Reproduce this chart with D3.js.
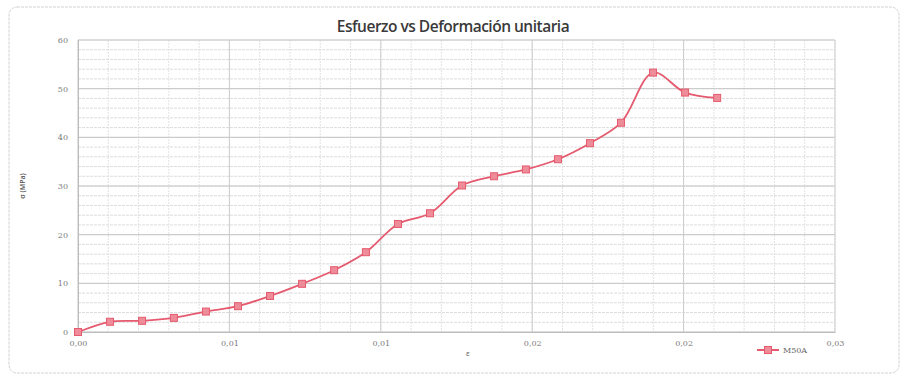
<!DOCTYPE html>
<html>
<head>
<meta charset="utf-8">
<script src="https://cdn.jsdelivr.net/npm/d3@7"></script>
<style>
  html, body { margin: 0; padding: 0; background: #fff; }
  svg { display: block; font-family: "Open Sans", "Liberation Sans", sans-serif; }
</style>
</head>
<body>
<svg id="chart" width="906" height="378"></svg>
<script>
// ---- data ----
const title = "Esfuerzo vs Deformación unitaria";
const xLabel = "ε";
const yLabel = "σ (MPa)";
const seriesName = "M50A";
const strain = [0, 0.00127, 0.00254, 0.00380, 0.00507, 0.00634, 0.00761, 0.00888, 0.01015, 0.01141,
                0.01268, 0.01395, 0.01522, 0.01649, 0.01775, 0.01902, 0.02029, 0.02152, 0.02279, 0.02406, 0.02533];
const stress = [0, 2.1, 2.3, 2.9, 4.2, 5.3, 7.4, 9.9, 12.7, 16.4,
                22.2, 24.4, 30.1, 32.0, 33.4, 35.5, 38.8, 43.0, 53.3, 49.2, 48.1];
const xTicks = [0, 0.006, 0.012, 0.018, 0.024, 0.030];
const yTicks = [0, 10, 20, 30, 40, 50, 60];

// ---- layout ----
const svg = d3.select("#chart");
const m = { left: 78, right: 835, top: 40, bottom: 332 };
const x = d3.scaleLinear().domain([0, 0.03]).range([m.left, m.right]);
const y = d3.scaleLinear().domain([0, 60]).range([m.bottom, m.top]);

// chart border
svg.append("rect").attr("x", 9).attr("y", 7).attr("width", 890).attr("height", 366)
  .attr("rx", 8).attr("fill", "none").attr("stroke", "#d2d2d2").attr("stroke-width", 1)
  .attr("stroke-dasharray", "3,1");

// title
svg.append("text").attr("x", 453).attr("y", 32).attr("text-anchor", "middle")
  .attr("font-size", 15.5).attr("fill", "#3a3a3a").attr("font-weight", 600)
  .attr("font-family", "'Open Sans', sans-serif").attr("letter-spacing", -0.5)
  .text(title);

// grid
const g = svg.append("g");
const xMinor = d3.range(0, 0.03 + 1e-9, 0.0012);
const yMinor = d3.range(0, 60 + 1e-9, 2);
g.selectAll(".vmin").data(xMinor).enter().append("line")
  .attr("x1", d => x(d)).attr("x2", d => x(d)).attr("y1", m.top).attr("y2", m.bottom)
  .attr("stroke", "#e2e2e2").attr("stroke-width", 1).attr("stroke-dasharray", "2,1");
g.selectAll(".hmin").data(yMinor).enter().append("line")
  .attr("x1", m.left).attr("x2", m.right).attr("y1", d => y(d)).attr("y2", d => y(d))
  .attr("stroke", "#dcdcdc").attr("stroke-width", 1).attr("stroke-dasharray", "3,1");
g.selectAll(".hmaj").data(yTicks).enter().append("line")
  .attr("x1", m.left).attr("x2", m.right).attr("y1", d => y(d)).attr("y2", d => y(d))
  .attr("stroke", "#c6c6c6").attr("stroke-width", 1);
g.selectAll(".vmaj").data(xTicks).enter().append("line")
  .attr("x1", d => x(d)).attr("x2", d => x(d)).attr("y1", m.top).attr("y2", m.bottom)
  .attr("stroke", "#cdcdcd").attr("stroke-width", 1);

// axes
const fmtX = d => d.toFixed(2).replace(".", ",");
const xAxis = d3.axisBottom(x).tickValues(xTicks).tickFormat(fmtX).tickSize(0).tickPadding(8);
const yAxis = d3.axisLeft(y).tickValues(yTicks).tickFormat(d3.format("d")).tickSize(0).tickPadding(10);
const xa = svg.append("g").attr("transform", `translate(0,${m.bottom})`).call(xAxis);
const ya = svg.append("g").attr("transform", `translate(${m.left},0)`).call(yAxis);
[xa, ya].forEach(a => {
  a.select(".domain").attr("stroke", "#bdbdbd");
  a.selectAll("text").attr("fill", "#7a7a7a").attr("font-size", 8)
    .attr("font-family", "'DejaVu Serif', serif");
});

// axis labels
svg.append("text").attr("x", 468).attr("y", 356).attr("text-anchor", "middle")
  .attr("font-size", 8).attr("fill", "#555").text(xLabel);
svg.append("text").attr("transform", "translate(25,186) rotate(-90)").attr("text-anchor", "middle")
  .attr("font-size", 7).attr("fill", "#555").attr("font-weight", 600).text(yLabel);

// series
const pts = strain.map((s, i) => [s, stress[i]]);
const color = "#e55a6e";
const line = d3.line().x(d => x(d[0])).y(d => y(d[1])).curve(d3.curveCatmullRom.alpha(0.5));
svg.append("path").datum(pts).attr("d", line).attr("fill", "none")
  .attr("stroke", color).attr("stroke-width", 1.8);
svg.selectAll(".mk").data(pts).enter().append("rect")
  .attr("x", d => x(d[0]) - 3.5).attr("y", d => y(d[1]) - 3.5).attr("width", 7).attr("height", 7)
  .attr("fill", "#ee8c99").attr("stroke", color).attr("stroke-width", 1);

// legend
const lg = svg.append("g").attr("transform", "translate(757,350)");
lg.append("line").attr("x1", 0).attr("x2", 22).attr("y1", 0).attr("y2", 0)
  .attr("stroke", color).attr("stroke-width", 2);
lg.append("rect").attr("x", 7.5).attr("y", -3.5).attr("width", 7).attr("height", 7)
  .attr("fill", "#ee8c99").attr("stroke", color);
lg.append("text").attr("x", 26).attr("y", 3).attr("font-size", 8).attr("fill", "#666")
  .attr("font-family", "'DejaVu Serif', serif").text(seriesName);
</script>
</body>
</html>
